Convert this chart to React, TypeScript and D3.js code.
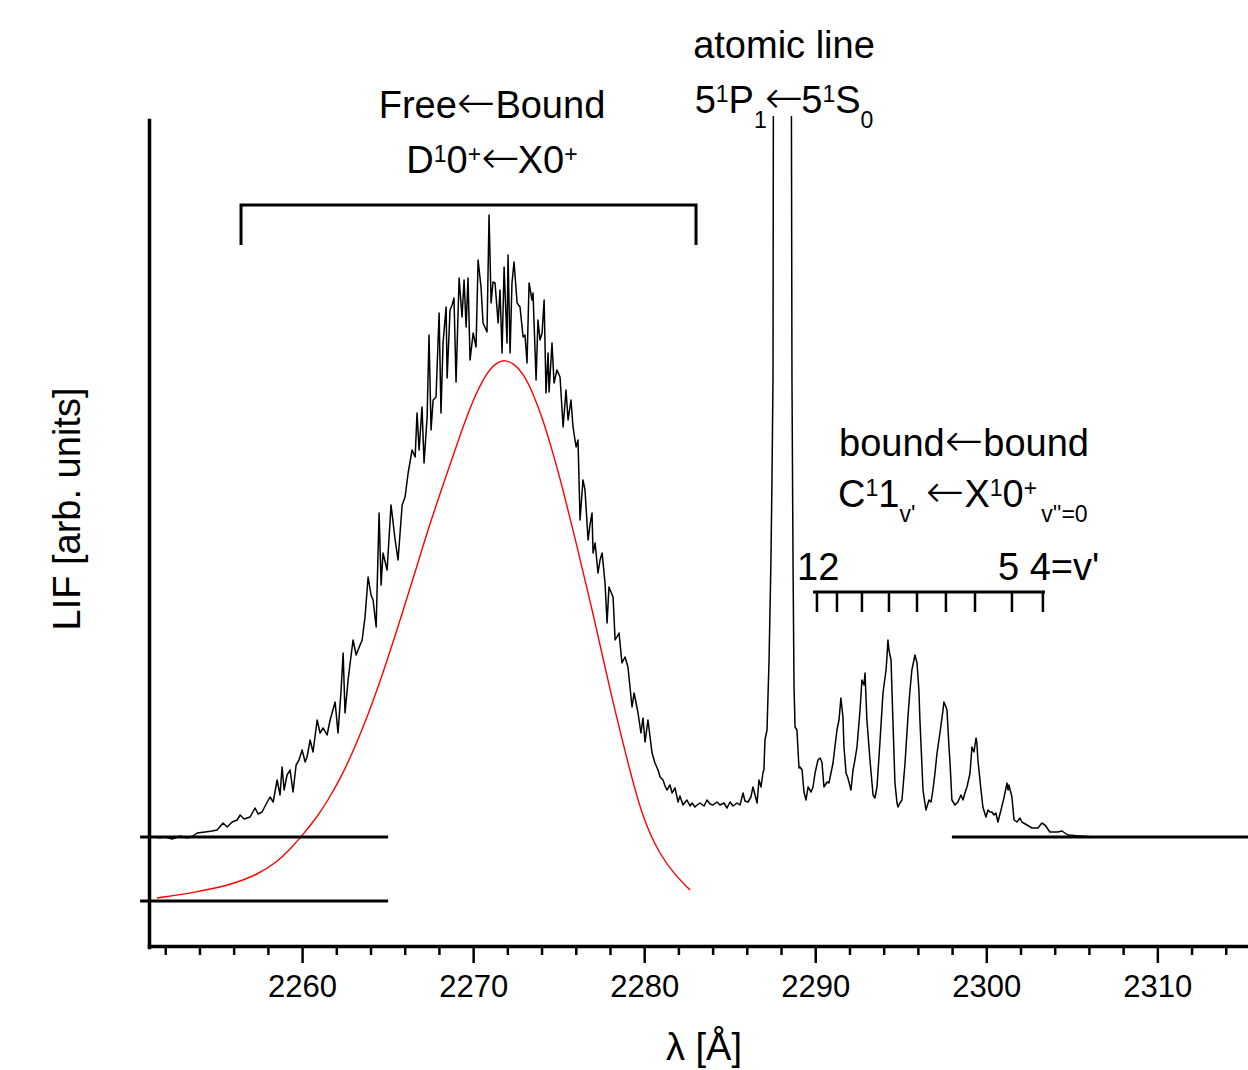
import React, { useEffect, useRef } from 'react';
import * as d3 from 'd3';

const FONT = "'Liberation Sans', Arial, Helvetica, sans-serif";
const ARROW_FONT = "'DejaVu Sans', sans-serif";

// ---- data ----
// LIF excitation spectrum [wavelength Å, intensity arb. units]
const lifSpectrum: [number, number][] = [
  [2251.58, -0.1], [2251.99, 0.0], [2252.40, -0.2], [2252.87, 0.1], [2253.28, -0.1], [2253.63, 0.1],
  [2253.86, 0.4], [2254.33, 0.5], [2254.74, 0.6], [2255.03, 0.7], [2255.38, 1.4], [2255.62, 1.0],
  [2255.91, 1.5], [2256.20, 1.7], [2256.38, 2.2], [2256.61, 1.8], [2256.96, 2.0], [2257.25, 2.9],
  [2257.43, 2.3], [2257.66, 2.5], [2257.90, 3.3], [2258.13, 4.0], [2258.31, 3.5], [2258.54, 5.7],
  [2258.71, 4.2], [2258.83, 7.0], [2258.95, 4.7], [2259.12, 6.2], [2259.30, 6.7], [2259.47, 4.5],
  [2259.65, 7.2], [2259.82, 7.7], [2260.00, 8.7], [2260.18, 7.5], [2260.29, 8.0], [2260.47, 9.7],
  [2260.64, 8.5], [2260.88, 11.7], [2261.05, 10.4], [2261.23, 10.9], [2261.46, 10.2], [2261.64, 11.7],
  [2261.93, 13.5], [2262.10, 10.4], [2262.28, 14.7], [2262.40, 18.4], [2262.51, 12.4], [2262.69, 15.7],
  [2262.81, 17.4], [2262.98, 19.7], [2263.16, 18.2], [2263.27, 18.7], [2263.51, 19.7], [2263.68, 22.0],
  [2263.86, 26.0], [2264.03, 24.2], [2264.15, 23.7], [2264.33, 21.0], [2264.50, 32.4], [2264.62, 25.2],
  [2264.73, 28.4], [2264.97, 26.7], [2265.20, 33.2], [2265.44, 29.7], [2265.61, 27.7], [2265.85, 33.2],
  [2266.02, 34.0], [2266.20, 36.4], [2266.43, 38.7], [2266.61, 38.0], [2266.72, 42.4], [2266.84, 38.7],
  [2267.01, 43.0], [2267.13, 37.4], [2267.31, 42.0], [2267.42, 50.2], [2267.54, 40.7], [2267.66, 43.7],
  [2267.83, 44.0], [2268.01, 52.4], [2268.12, 42.4], [2268.24, 49.4], [2268.42, 53.0], [2268.48, 45.9],
  [2268.65, 52.7], [2268.77, 53.2], [2268.88, 53.9], [2269.00, 45.5], [2269.18, 55.9], [2269.35, 52.0],
  [2269.47, 55.7], [2269.59, 51.0], [2269.70, 55.9], [2269.82, 47.7], [2270.00, 50.4], [2270.17, 49.0],
  [2270.29, 57.7], [2270.46, 55.0], [2270.58, 51.4], [2270.81, 50.5], [2270.93, 62.2], [2271.05, 53.4],
  [2271.16, 55.5], [2271.28, 55.4], [2271.46, 51.4], [2271.57, 54.7], [2271.69, 48.4], [2271.81, 57.0],
  [2271.98, 49.4], [2272.04, 58.2], [2272.16, 48.4], [2272.27, 55.4], [2272.39, 57.5], [2272.57, 53.4],
  [2272.74, 53.0], [2272.92, 50.0], [2273.03, 50.2], [2273.15, 47.4], [2273.27, 55.4], [2273.44, 53.7],
  [2273.50, 54.4], [2273.68, 45.7], [2273.79, 51.7], [2273.91, 49.7], [2274.03, 50.4], [2274.15, 53.7],
  [2274.26, 44.4], [2274.38, 48.4], [2274.44, 44.5], [2274.61, 49.4], [2274.73, 45.4], [2274.90, 46.7],
  [2275.08, 46.0], [2275.26, 41.0], [2275.43, 44.7], [2275.55, 41.7], [2275.72, 43.7], [2275.84, 41.0],
  [2276.02, 39.0], [2276.13, 39.7], [2276.25, 31.7], [2276.42, 35.7], [2276.54, 34.7], [2276.72, 29.7],
  [2276.83, 31.2], [2276.95, 32.4], [2277.01, 28.4], [2277.13, 29.4], [2277.30, 26.4], [2277.42, 27.7],
  [2277.54, 28.4], [2277.71, 25.4], [2277.83, 21.4], [2277.94, 25.0], [2278.18, 24.0], [2278.30, 19.7],
  [2278.53, 20.4], [2278.70, 17.4], [2278.88, 18.0], [2279.05, 17.0], [2279.29, 13.0], [2279.41, 14.4],
  [2279.64, 12.4], [2279.81, 10.4], [2279.93, 11.9], [2280.05, 9.5], [2280.22, 11.7], [2280.46, 8.4],
  [2280.63, 7.4], [2280.81, 6.7], [2280.93, 6.0], [2281.10, 5.7], [2281.22, 5.1], [2281.33, 4.7],
  [2281.51, 5.2], [2281.63, 4.4], [2281.80, 4.9], [2281.98, 3.5], [2282.09, 4.1], [2282.27, 3.2],
  [2282.50, 3.7], [2282.68, 3.1], [2282.80, 3.4], [2282.97, 3.0], [2283.09, 3.2], [2283.26, 3.4],
  [2283.50, 3.1], [2283.67, 3.7], [2283.85, 3.3], [2284.02, 3.2], [2284.26, 3.5], [2284.43, 3.2],
  [2284.67, 3.4], [2284.84, 2.9], [2285.02, 3.5], [2285.19, 3.1], [2285.43, 3.4], [2285.60, 3.2],
  [2285.78, 4.4], [2285.89, 3.6], [2286.07, 3.5], [2286.24, 4.0], [2286.36, 5.0], [2286.48, 4.2],
  [2286.60, 3.4], [2286.71, 5.7], [2286.83, 5.0], [2286.95, 6.5], [2287.00, 6.7], [2287.06, 9.7],
  [2287.18, 10.7], [2287.30, 17.7], [2287.41, 27.7], [2287.47, 35.7], [2287.53, 45.7], [2287.59, 120],
  [2288.06, 100], [2288.55, 120], [2288.64, 45.7], [2288.70, 27.7], [2288.76, 15.0], [2288.82, 11.0],
  [2288.93, 10.7], [2289.05, 6.9], [2289.11, 7.0], [2289.23, 6.7], [2289.34, 4.5], [2289.46, 3.7],
  [2289.58, 5.0], [2289.75, 4.5], [2289.87, 5.0], [2289.99, 6.4], [2290.16, 7.7], [2290.28, 7.9],
  [2290.39, 7.5], [2290.51, 5.0], [2290.69, 5.5], [2290.80, 5.4], [2290.92, 6.4], [2291.04, 7.4],
  [2291.15, 9.0], [2291.27, 10.7], [2291.39, 11.7], [2291.50, 13.9], [2291.62, 12.0], [2291.68, 9.0],
  [2291.80, 6.4], [2291.91, 5.9], [2292.09, 4.7], [2292.21, 6.7], [2292.32, 7.7], [2292.44, 9.0],
  [2292.62, 12.7], [2292.73, 15.7], [2292.85, 15.2], [2292.91, 16.4], [2293.02, 11.7], [2293.20, 7.7],
  [2293.38, 4.2], [2293.49, 3.9], [2293.61, 5.0], [2293.78, 9.4], [2293.96, 14.4], [2294.14, 16.7],
  [2294.19, 17.9], [2294.25, 19.7], [2294.31, 18.7], [2294.43, 17.7], [2294.54, 11.7], [2294.66, 5.4],
  [2294.78, 3.4], [2294.84, 3.0], [2294.95, 3.4], [2295.07, 3.7], [2295.25, 7.4], [2295.42, 12.0],
  [2295.54, 14.7], [2295.65, 16.7], [2295.83, 18.2], [2295.95, 17.4], [2296.06, 14.7], [2296.12, 11.7],
  [2296.30, 4.7], [2296.47, 2.7], [2296.65, 3.7], [2296.77, 3.5], [2296.88, 4.7], [2297.00, 6.4],
  [2297.12, 8.4], [2297.29, 10.4], [2297.47, 12.7], [2297.52, 13.5], [2297.64, 13.0], [2297.70, 12.7],
  [2297.82, 9.0], [2297.88, 7.4], [2297.99, 3.7], [2298.17, 3.2], [2298.34, 3.5], [2298.52, 4.2],
  [2298.64, 3.7], [2298.75, 4.4], [2298.87, 5.0], [2298.99, 5.9], [2299.05, 6.4], [2299.16, 9.0],
  [2299.28, 8.5], [2299.40, 9.9], [2299.45, 9.4], [2299.51, 7.7], [2299.69, 4.7], [2299.80, 3.0],
  [2299.98, 2.0], [2300.10, 2.7], [2300.21, 2.5], [2300.33, 2.5], [2300.45, 2.2], [2300.56, 2.4],
  [2300.68, 1.5], [2300.86, 2.7], [2301.03, 3.9], [2301.15, 4.9], [2301.21, 5.4], [2301.27, 4.7],
  [2301.32, 5.2], [2301.50, 4.0], [2301.62, 1.7], [2301.79, 1.5], [2301.97, 1.9], [2302.08, 1.5],
  [2302.38, 1.2], [2302.67, 0.9], [2303.02, 0.9], [2303.25, 1.4], [2303.43, 1.2], [2303.72, 0.5],
  [2304.19, 0.5], [2304.42, 0.6], [2304.77, 0.2], [2305.47, 0.1], [2306.35, 0.0], [2306.94, 0.0],
];

// free<-bound simulation (red)
const fitSpectrum: [number, number][] = [
  [2251.52, -6.1], [2253.86, -5.5], [2255.79, -4.8], [2257.37, -3.8], [2258.54, -2.5], [2259.30, -1.2],
  [2259.94, 0.0], [2260.88, 2.0], [2261.52, 3.7], [2262.40, 6.3], [2263.57, 10.9], [2264.56, 15.5],
  [2265.55, 20.7], [2266.61, 26.5], [2267.48, 31.4], [2268.48, 36.4], [2269.24, 40.2], [2270.00, 43.8],
  [2270.81, 46.5], [2271.40, 47.5], [2271.87, 47.7], [2272.33, 47.4], [2272.92, 46.4], [2273.50, 44.4],
  [2274.09, 41.7], [2274.67, 38.4], [2275.26, 34.7], [2275.84, 30.7], [2277.01, 22.4], [2278.00, 14.7],
  [2279.00, 7.7], [2279.93, 1.7], [2280.93, -1.8], [2281.80, -3.8], [2282.68, -5.3],
];

const xMajorTicks = [2260, 2270, 2280, 2290, 2300, 2310];
const xMinorTicks = [2252, 2254, 2256, 2258, 2262, 2264, 2266, 2268, 2272, 2274, 2276, 2278,
  2282, 2284, 2286, 2288, 2292, 2294, 2296, 2298, 2302, 2304, 2306, 2308, 2312, 2314];

// baselines (spectrum zero and offset fit zero)
const spectrumZero = 0;
const fitZero = -6.4;
const leftBaseSpan = [2250.53, 2265.03];
const rightBaseSpan = [2297.99, 2315.3];

// Free<-Bound bracket
const freeBoundSpan = [2256.43, 2283.03];
const freeBoundLevel = [63.2, 59.2];

// vibrational comb C1(v'=12..4) <- X(v''=0)
const vibComb = [2290.10, 2291.27, 2292.73, 2294.31, 2295.95, 2297.64, 2299.34, 2301.50, 2303.31];
const vibSpan = [2289.87, 2303.43];
const vibLevel = [24.5, 22.5];

export default function App() {
  const xAxisRef = useRef<SVGGElement>(null);
  const xMinorRef = useRef<SVGGElement>(null);
  const yAxisRef = useRef<SVGGElement>(null);

  const x = d3.scaleLinear().domain([2251.05, 2315.3]).range([149, 1248]);
  const y = d3.scaleLinear().domain([-11, 72]).range([947, 117]);

  const specLine = d3.line<[number, number]>().x(d => x(d[0])).y(d => y(d[1]));
  const fitLine = d3.line<[number, number]>().x(d => x(d[0])).y(d => y(d[1])).curve(d3.curveBasis);

  useEffect(() => {
    const gx = d3.select(xAxisRef.current!);
    gx.selectAll('*').remove();
    gx.call(
      d3.axisBottom(x).tickValues(xMajorTicks).tickSize(17).tickSizeOuter(0).tickPadding(12)
        .tickFormat(d3.format('d') as any)
    );
    gx.attr('font-family', null).attr('font-size', null);
    gx.select('.domain').attr('stroke-width', 3.5).attr('stroke-linecap', 'square');
    gx.selectAll('.tick line').attr('stroke-width', 2.5);
    gx.selectAll('.tick text').attr('font-size', 31).attr('font-family', FONT).attr('fill', '#000');

    const gm = d3.select(xMinorRef.current!);
    gm.selectAll('*').remove();
    gm.call(d3.axisBottom(x).tickValues(xMinorTicks).tickSize(9).tickSizeOuter(0).tickFormat(() => ''));
    gm.select('.domain').remove();
    gm.selectAll('.tick line').attr('stroke-width', 2.5);

    const gy = d3.select(yAxisRef.current!);
    gy.selectAll('*').remove();
    gy.call(d3.axisLeft(y.copy().range([947, 120])).tickValues([]).tickSizeOuter(0));
    gy.select('.domain').attr('stroke-width', 3.5).attr('stroke-linecap', 'square');
  }, []);

  const sup = 11;
  const sub = 15;
  const SS = 23; // sup/sub font size
  const AS = 46; // arrow font size
  const arrow = (dxL: number, dy = 0) => (
    <tspan fontFamily={ARROW_FONT} fontSize={AS} dx={dxL} dy={dy} fontWeight={200}>←</tspan>
  );

  return (
    <svg width={1248} height={1070} style={{ position: 'absolute', left: 0, top: 0, background: '#fff' }}
      fontFamily={FONT}>
      <defs>
        <clipPath id="plotClip"><rect x={149} y={116} width={1100} height={832} /></clipPath>
      </defs>
      <rect x={0} y={0} width={1248} height={1070} fill="#fff" />

      <g clipPath="url(#plotClip)">
        <path d={specLine(lifSpectrum) || ''} fill="none" stroke="#000" strokeWidth={1.5} strokeLinejoin="round" />
        <path d={fitLine(fitSpectrum) || ''} fill="none" stroke="#ff0000" strokeWidth={1.4} />
      </g>

      {/* baselines */}
      <line x1={x(leftBaseSpan[0])} x2={x(leftBaseSpan[1])} y1={y(spectrumZero)} y2={y(spectrumZero)} stroke="#000" strokeWidth={3} />
      <line x1={x(leftBaseSpan[0])} x2={x(leftBaseSpan[1])} y1={y(fitZero)} y2={y(fitZero)} stroke="#000" strokeWidth={3} />
      <line x1={x(rightBaseSpan[0])} x2={x(rightBaseSpan[1])} y1={y(spectrumZero)} y2={y(spectrumZero)} stroke="#000" strokeWidth={3} />

      {/* Free<-Bound bracket */}
      <path d={`M${x(freeBoundSpan[0])},${y(freeBoundLevel[1])}V${y(freeBoundLevel[0])}H${x(freeBoundSpan[1])}V${y(freeBoundLevel[1])}`}
        fill="none" stroke="#000" strokeWidth={3} />

      {/* vibrational comb */}
      <line x1={x(vibSpan[0])} x2={x(vibSpan[1])} y1={y(vibLevel[0])} y2={y(vibLevel[0])} stroke="#000" strokeWidth={3} />
      {vibComb.map((v, i) => (
        <line key={i} x1={x(v)} x2={x(v)} y1={y(vibLevel[0])} y2={y(vibLevel[1])} stroke="#000" strokeWidth={2.5} />
      ))}

      {/* axes */}
      <g ref={xAxisRef} transform="translate(0,946)" />
      <g ref={xMinorRef} transform="translate(0,946)" />
      <g ref={yAxisRef} transform="translate(149,0)" />

      {/* axis titles */}
      <text x={704} y={1060} textAnchor="middle" fontSize={38}>λ [Å]</text>
      <text transform="translate(80,509) rotate(-90)" textAnchor="middle" fontSize={38}>LIF [arb. units]</text>

      {/* Free <- Bound annotation */}
      <text x={492} y={118} textAnchor="middle" fontSize={38}>
        Free{arrow(0)}<tspan dx={0}>Bound</tspan>
      </text>
      <text x={492} y={173} textAnchor="middle" fontSize={38}>
        D<tspan fontSize={SS} dy={-sup}>1</tspan><tspan dy={sup}>0</tspan><tspan fontSize={SS} dy={-sup}>+</tspan>{arrow(0, sup)}<tspan dx={-2}>X0</tspan><tspan fontSize={SS} dy={-sup}>+</tspan>
      </text>

      {/* atomic line */}
      <text x={784} y={58} textAnchor="middle" fontSize={38}>atomic line</text>
      <text x={784} y={113} textAnchor="middle" fontSize={38}>
        5<tspan fontSize={SS} dy={-sup}>1</tspan><tspan dy={sup}>P</tspan><tspan fontSize={SS} dy={sub}>1</tspan>{arrow(-2, -sub)}<tspan dx={-2}>5</tspan><tspan fontSize={SS} dy={-sup}>1</tspan><tspan dy={sup}>S</tspan><tspan fontSize={SS} dy={sub}>0</tspan>
      </text>

      {/* bound <- bound */}
      <text x={964} y={456} textAnchor="middle" fontSize={38}>
        bound{arrow(0)}<tspan dx={0}>bound</tspan>
      </text>
      <text x={838} y={507} fontSize={38}>
        C<tspan fontSize={SS} dy={-sup}>1</tspan><tspan dy={sup}>1</tspan><tspan fontSize={SS} dy={sub}>v'</tspan><tspan dy={-sub}> </tspan>{arrow(0)}<tspan dx={0}>X</tspan><tspan fontSize={SS} dy={-sup}>1</tspan><tspan dy={sup}>0</tspan><tspan fontSize={SS} dy={-sup}>+</tspan><tspan fontSize={SS} dx={4} dy={sup + sub}>v''=0</tspan>
      </text>
      <text x={797} y={580} fontSize={38}>12</text>
      <text x={998} y={580} fontSize={38}>5 4=v'</text>
    </svg>
  );
}
